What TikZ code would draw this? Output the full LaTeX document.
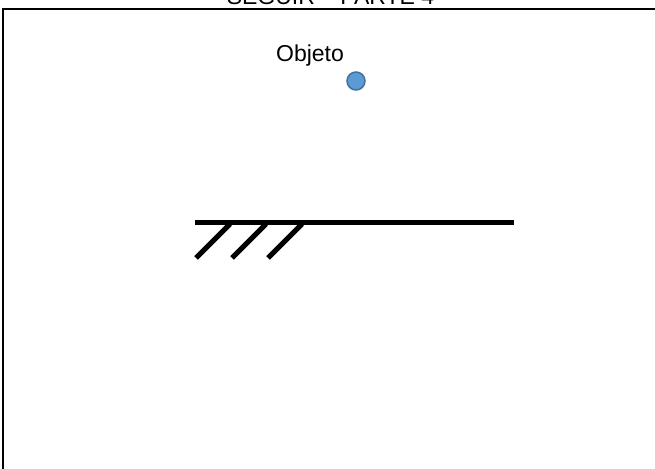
\documentclass[tikz,border=0pt]{standalone}
\usepackage{fontspec}
\setmainfont{Liberation Sans}
\definecolor{objfill}{HTML}{5B9BD5}
\definecolor{objedge}{HTML}{41719C}
\begin{document}
\begin{tikzpicture}[x=1pt,y=-1pt,
  framestyle/.style={line width=2.2pt,black},
  groundstyle/.style={line width=5pt,black},
  hatchstyle/.style={line width=5pt,black},
  labelstyle/.style={font=\fontsize{23}{26}\selectfont,inner sep=0pt}]
\useasboundingbox (0,0) rectangle (655,468);
% frame
\coordinate (fbl) at (3,470);
\coordinate (ftl) at (3,9);
\coordinate (ftr) at (657,9);
\draw[framestyle] (fbl) -- (ftl) -- (ftr);
% title (clipped at top)
\node[labelstyle,anchor=base] (title) at (330.5,5) {SEGUIR – PARTE 4};
% object
\node[labelstyle,anchor=base] (objlabel) at (310,62) {Objeto};
\node[circle,fill=objfill,draw=objedge,line width=1.5pt,minimum size=18pt,inner sep=0pt] (obj) at (356,81) {};
% ground
\coordinate (g1) at (195,222);
\coordinate (g2) at (514,222);
\draw[groundstyle] (g1) -- (g2);
\coordinate (h1a) at (196,258); \coordinate (h1b) at (230,224);
\coordinate (h2a) at (232,258); \coordinate (h2b) at (266,224);
\coordinate (h3a) at (268,258); \coordinate (h3b) at (302,224);
\draw[hatchstyle] (h1a) -- (h1b);
\draw[hatchstyle] (h2a) -- (h2b);
\draw[hatchstyle] (h3a) -- (h3b);
\end{tikzpicture}
\end{document}
